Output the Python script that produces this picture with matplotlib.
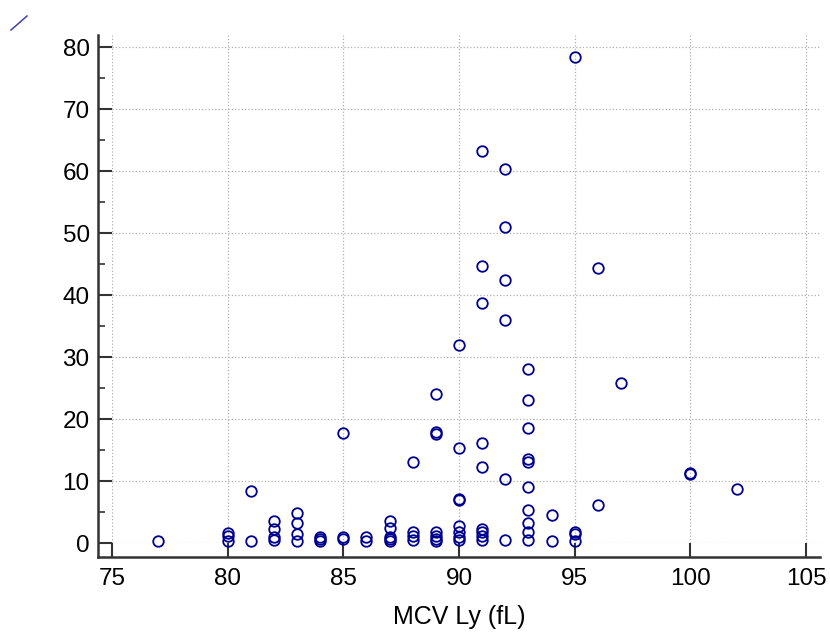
import matplotlib.pyplot as plt
from matplotlib.lines import Line2D
from matplotlib.ticker import MultipleLocator

plt.rcParams["font.family"] = ["Liberation Sans", "DejaVu Sans"]

# MCV Ly (fL) and the measured value for each sample
mcv = [77,
       80, 80, 80,
       81, 81,
       82, 82, 82, 82,
       83, 83, 83, 83,
       84, 84, 84,
       85, 85, 85,
       86, 86,
       87, 87, 87, 87, 87,
       88, 88, 88, 88,
       89, 89, 89, 89, 89, 89, 89,
       90, 90, 90, 90, 90, 90, 90, 90,
       91, 91, 91, 91, 91, 91, 91, 91, 91,
       92, 92, 92, 92, 92, 92,
       93, 93, 93, 93, 93, 93, 93, 93, 93, 93,
       94, 94,
       95, 95, 95, 95,
       96, 96,
       97,
       100, 100,
       102]
values = [0.4,
          1.6, 1.2, 0.4,
          8.4, 0.4,
          3.6, 2.2, 0.9, 0.5,
          4.9, 3.2, 1.4, 0.4,
          0.9, 0.6, 0.3,
          17.7, 0.9, 0.6,
          0.9, 0.4,
          3.6, 2.5, 1.0, 0.6, 0.4,
          13.1, 1.8, 1.2, 0.5,
          24.1, 17.9, 17.6, 1.8, 1.1, 0.6, 0.3,
          31.9, 15.4, 7.1, 7.0, 2.7, 1.8, 1.0, 0.5,
          63.2, 44.6, 38.7, 16.1, 12.2, 2.3, 1.8, 1.1, 0.5,
          60.3, 51.0, 42.5, 35.9, 10.3, 0.5,
          28.0, 23.0, 18.6, 13.5, 13.0, 9.1, 5.4, 3.2, 1.8, 0.5,
          4.5, 0.4,
          78.4, 1.8, 1.5, 0.3,
          44.4, 6.1,
          25.8,
          11.3, 11.2,
          8.7]

x_ticks = [75, 80, 85, 90, 95, 100, 105]
y_ticks = [0, 10, 20, 30, 40, 50, 60, 70, 80]

fig = plt.figure(figsize=(8.3, 6.35), dpi=100)
ax = fig.add_axes([112 / 830, 92 / 635, 708 / 830, 508 / 635])

ax.plot(mcv, values, "o", ls="none", ms=7.6, mew=1.3, mfc="none",
        mec="#000090", clip_on=False, zorder=3)

ax.set_xlim(75, 105.605)
ax.set_ylim(0, 81.94)
ax.set_xticks(x_ticks)
ax.set_yticks(y_ticks)
ax.yaxis.set_minor_locator(MultipleLocator(5))

ax.grid(True, which="major", color="#b0b0b0", linestyle=":", linewidth=0.9)
ax.set_axisbelow(True)

spine_col = "#333333"
for side in ["top", "right"]:
    ax.spines[side].set_visible(False)
for side in ["left", "bottom"]:
    ax.spines[side].set_position(("outward", 10.08))
    ax.spines[side].set_linewidth(1.8)
    ax.spines[side].set_color(spine_col)
ax.spines["left"].set_bounds(-14 / 6.2, 81.94)
ax.spines["bottom"].set_bounds(75 - 14 / 23.133, 105.605)

ax.tick_params(which="major", direction="in", length=10, width=1.5,
               color=spine_col, labelsize=17.5)
ax.tick_params(which="minor", direction="in", length=5, width=1.2,
               color=spine_col)
ax.tick_params(axis="y", pad=6)
ax.tick_params(axis="x", pad=8)

ax.set_xlabel("MCV Ly (fL)", fontsize=18, va="center")
ax.xaxis.set_label_coords(0.49, -74 / 508)

fig.add_artist(Line2D([11 / 830, 27 / 830], [1 - 30 / 635, 1 - 16 / 635],
                      color="#4040b0", lw=1.1, transform=fig.transFigure))

fig.savefig("out.png", dpi=100)
